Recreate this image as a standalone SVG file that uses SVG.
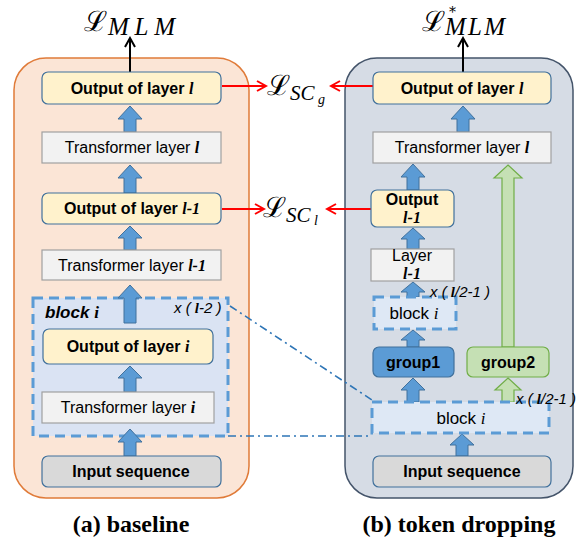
<svg xmlns="http://www.w3.org/2000/svg" width="577" height="540" viewBox="0 0 577 540">
<style>
.lbl{font-family:"Liberation Sans",Arial,sans-serif;font-size:16px;fill:#000;text-anchor:middle}
.b{font-weight:bold}
.it{font-family:"Liberation Serif","Times New Roman",serif;font-style:italic;font-weight:bold}
.iti{font-family:"Liberation Serif","Times New Roman",serif;font-style:italic}
.out{fill:#fff2cc;stroke:#41719c;stroke-width:1.2}
.tr{fill:#f2f2f2;stroke:#a0a0a0;stroke-width:1.2}
.inp{fill:#d9d9d9;stroke:#41719c;stroke-width:1.2}
.blk{fill:#dae3f3;stroke:#5b9bd5;stroke-width:3;stroke-dasharray:10 6}
.ba{fill:#5b9bd5;stroke:#41719c;stroke-width:1}
.ga{fill:#c5e0b4;stroke:#70ad47;stroke-width:1.2}
.math{font-family:"DejaVu Serif","Liberation Serif",serif;fill:#000}
.sub{font-family:"Liberation Serif","Times New Roman",serif;font-style:italic;font-weight:normal}
.red{stroke:#ff0000;stroke-width:2;fill:none}
.cap{font-family:"Liberation Serif","Times New Roman",serif;font-weight:bold;font-size:24px;text-anchor:middle}
.mult{font-family:"Liberation Sans",Arial,sans-serif;font-style:italic;font-size:15px}
</style>
<defs>
<marker id="rh" markerWidth="12" markerHeight="12" refX="10" refY="6" orient="auto" markerUnits="userSpaceOnUse">
<path d="M1,1 L10,6 L1,11" fill="none" stroke="#ff0000" stroke-width="2"/>
</marker>
<marker id="kh" markerWidth="12" markerHeight="12" refX="10" refY="6" orient="auto" markerUnits="userSpaceOnUse">
<path d="M1,1 L10,6 L1,11" fill="none" stroke="#000" stroke-width="2"/>
</marker>
</defs>

<!-- panels -->
<g id="panel-a"><rect x="14" y="58" width="235" height="440" rx="32" fill="#fbe5d6" stroke="#e07b39" stroke-width="1.5"/></g>
<g id="panel-b"><rect x="345" y="58" width="228" height="440" rx="32" fill="#d6dce5" stroke="#44546a" stroke-width="1.5"/></g>

<!-- left block -->
<g id="a-block"><rect class="blk" x="33" y="298" width="195" height="138"/>
<text x="45" y="318" style="font-family:'Liberation Sans',Arial,sans-serif;font-style:italic;font-size:17px;font-weight:bold">block <tspan class="iti" style="font-weight:bold">i</tspan></text>
<text class="mult" x="174" y="313">x ( <tspan class="iti" style="font-weight:bold">l</tspan>-2 )</text>
</g>

<!-- connectors -->
<g id="connectors">
<polygon class="ba" points="130,106 142,119 136,119 136,132 124,132 124,119 118,119"/>
<polygon class="ba" points="130,165 142,178 136,178 136,193 124,193 124,178 118,178"/>
<polygon class="ba" points="130,226 142,238 136,238 136,250 124,250 124,238 118,238"/>
<polygon class="ba" points="130,285 142,298 136,298 136,323 124,323 124,298 118,298"/>
<polygon class="ba" points="130,366 142,378 136,378 136,392 124,392 124,378 118,378"/>
<polygon class="ba" points="130,429 142,442 136,442 136,456 124,456 124,442 118,442"/>
<polygon class="ba" points="463,106 475,119 469,119 469,132 457,132 457,119 451,119"/>
<polygon class="ba" points="413,164 425,177 419,177 419,190 407,190 407,177 401,177"/>
<polygon class="ba" points="413,228 425,239 419,239 419,249 407,249 407,239 401,239"/>
<polygon class="ba" points="413,282 425,292 419,292 419,297 407,297 407,292 401,292"/>
<polygon class="ba" points="413,330 425,340 419,340 419,347 407,347 407,340 401,340"/>
<polygon class="ba" points="413,378 425,390 419,390 419,402 407,402 407,390 401,390"/>
<polygon class="ba" points="462,434 474,445 468,445 468,456 456,456 456,445 450,445"/>
<polygon class="ga" points="508,165 522,178 514,178 514,347 502,347 502,178 494,178"/>
<polygon class="ga" points="508,378 521,390 514,390 514,402 502,402 502,390 495,390"/>
<line x1="130" y1="72" x2="130" y2="38" stroke="#000" stroke-width="2" marker-end="url(#kh)"/>
<line x1="463" y1="72" x2="463" y2="38" stroke="#000" stroke-width="2" marker-end="url(#kh)"/>
<line class="red" x1="222" y1="86" x2="266" y2="86" marker-end="url(#rh)"/>
<line class="red" x1="373" y1="86" x2="331" y2="86" marker-end="url(#rh)"/>
<line class="red" x1="222" y1="209" x2="264" y2="209" marker-end="url(#rh)"/>
<line class="red" x1="371" y1="209" x2="327" y2="209" marker-end="url(#rh)"/>
<line x1="230" y1="306" x2="372" y2="400" stroke="#2e75b6" stroke-width="1.6" stroke-dasharray="8 4 2 4"/>
<line x1="228" y1="436" x2="372" y2="436" stroke="#2e75b6" stroke-width="1.6" stroke-dasharray="8 4 2 4"/>
</g>

<!-- left nodes -->
<g id="a-out-l"><rect class="out" x="42" y="72" width="179" height="32" rx="6"/>
<text class="lbl b" x="132" y="94">Output of layer <tspan class="it">l</tspan></text></g>
<g id="a-tr-l"><rect class="tr" x="42" y="132" width="179" height="31"/>
<text class="lbl" x="132" y="153">Transformer layer <tspan class="it">l</tspan></text></g>
<g id="a-out-l1"><rect class="out" x="42" y="193" width="179" height="31" rx="6"/>
<text class="lbl b" x="132" y="214">Output of layer <tspan class="it">l-1</tspan></text></g>
<g id="a-tr-l1"><rect class="tr" x="42" y="250" width="179" height="30"/>
<text class="lbl" x="132" y="271">Transformer layer <tspan class="it">l-1</tspan></text></g>
<g id="a-out-i"><rect class="out" x="43" y="329" width="170" height="35" rx="6"/>
<text class="lbl b" x="128" y="352">Output of layer <tspan class="it">i</tspan></text></g>
<g id="a-tr-i"><rect class="tr" x="42" y="392" width="172" height="31"/>
<text class="lbl" x="128" y="413">Transformer layer <tspan class="it">i</tspan></text></g>
<g id="a-input"><rect class="inp" x="42" y="456" width="179" height="31" rx="6"/>
<text class="lbl b" x="131" y="477">Input sequence</text></g>

<!-- right nodes -->
<g id="b-out-l"><rect class="out" x="373" y="72" width="178" height="32" rx="6"/>
<text class="lbl b" x="462" y="94">Output of layer <tspan class="it">l</tspan></text></g>
<g id="b-tr-l"><rect class="tr" x="373" y="132" width="178" height="31"/>
<text class="lbl" x="462" y="153">Transformer layer <tspan class="it">l</tspan></text></g>
<g id="b-out-l1"><rect class="out" x="371" y="190" width="83" height="37" rx="6"/>
<text class="lbl b" x="412" y="205">Output</text>
<text class="lbl it" x="412" y="223">l-1</text></g>
<g id="b-layer-l1"><rect class="tr" x="371" y="249" width="83" height="32"/>
<text class="lbl" x="412" y="261">Layer</text>
<text class="lbl it" x="412" y="279">l-1</text></g>
<g id="b-block-small"><rect class="blk" x="374" y="297" width="82" height="32" style="fill:#dee8f5"/>
<text class="lbl" x="414" y="319" style="font-size:17px">block <tspan class="iti">i</tspan></text>
<text class="mult" x="430" y="297">x ( <tspan class="iti" style="font-weight:bold">l</tspan>/2-1 )</text></g>
<g id="b-group1"><rect x="373" y="347" width="81" height="30" rx="6" fill="#5b9bd5" stroke="#41719c" stroke-width="1.2"/>
<text class="lbl b" x="413" y="368">group1</text></g>
<g id="b-group2"><rect x="467" y="347" width="82" height="30" rx="6" fill="#c5e0b4" stroke="#70ad47" stroke-width="1.2"/>
<text class="lbl b" x="508" y="368">group2</text></g>
<g id="b-block-big"><rect class="blk" x="372" y="402" width="177" height="31" style="fill:#dee8f5"/>
<text class="lbl" x="461" y="424" style="font-size:17px">block <tspan class="iti">i</tspan></text>
<text class="mult" x="516" y="404">x ( <tspan class="iti" style="font-weight:bold">l</tspan>/2-1 )</text></g>
<g id="b-input"><rect class="inp" x="373" y="456" width="178" height="31" rx="6"/>
<text class="lbl b" x="462" y="477">Input sequence</text></g>

<!-- loss labels -->
<g id="loss-mlm"><text class="math" x="84" y="31" font-size="28">ℒ<tspan class="sub" x="108" y="35" font-size="25" textLength="67" lengthAdjust="spacing">MLM</tspan></text></g>
<g id="loss-mlm-star"><text class="math" x="422" y="31" font-size="28">ℒ<tspan x="449" y="17" font-size="14">*</tspan><tspan class="sub" x="445" y="35" font-size="25" textLength="60" lengthAdjust="spacing">MLM</tspan></text></g>
<g id="loss-scg"><text class="math" x="267" y="95" font-size="28">ℒ<tspan class="sub" x="290" y="100" font-size="21">SC</tspan><tspan class="sub" x="318" y="104" font-size="14">g</tspan></text></g>
<g id="loss-scl"><text class="math" x="263" y="217" font-size="28">ℒ<tspan class="sub" x="286" y="222" font-size="21">SC</tspan><tspan class="sub" x="314" y="225" font-size="14">l</tspan></text></g>

<!-- captions -->
<text class="cap" x="131" y="532">(a) baseline</text>
<text class="cap" x="459" y="532">(b) token dropping</text>
</svg>
